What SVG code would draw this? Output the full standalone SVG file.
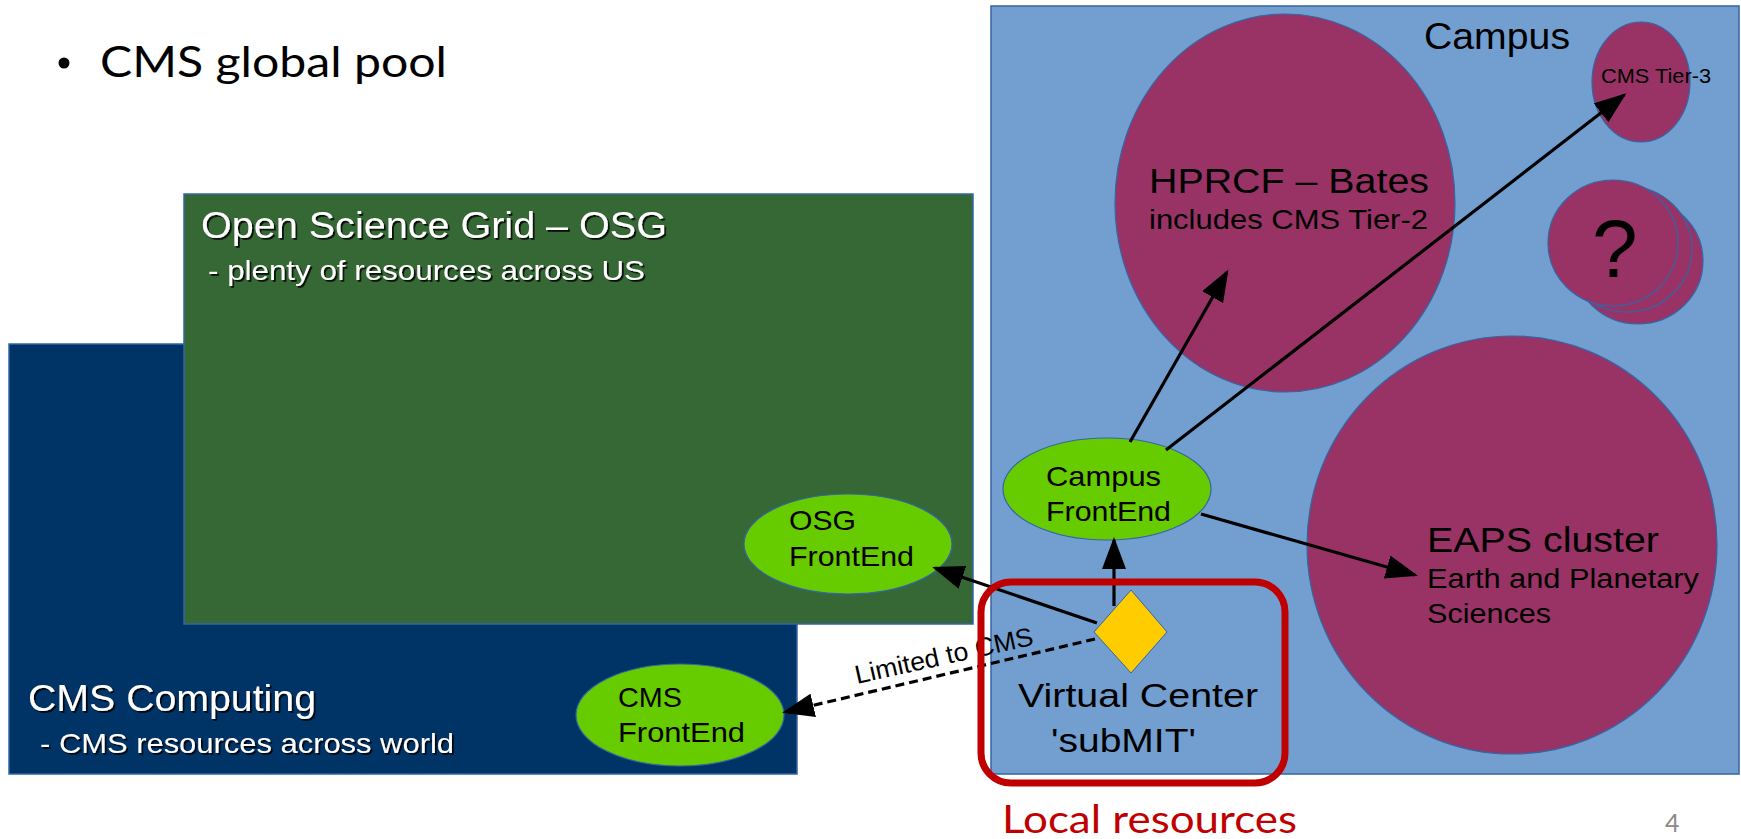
<svg xmlns="http://www.w3.org/2000/svg" width="1741" height="839" viewBox="0 0 1741 839">
<defs>
<style>
.box{stroke:#3465a4;stroke-width:1.5}
.res{fill:#993366;stroke:#3465a4;stroke-width:1.2}
.fe{fill:#66cc00;stroke:#3465a4;stroke-width:1.2}
.t{font-family:"Liberation Sans",Arial,sans-serif;fill:#000}
.w{font-family:"Liberation Sans",Arial,sans-serif;fill:#fff;filter:url(#sh)}
.cal{font-family:Lato,"Open Sans",sans-serif}
.ln{stroke:#000;stroke-width:3.2;fill:none}
</style>
<filter id="sh" x="-5%" y="-20%" width="110%" height="140%">
<feDropShadow dx="1.8" dy="1.8" stdDeviation="0.4" flood-color="#000" flood-opacity="0.85"/>
</filter>
<marker id="ah" markerUnits="userSpaceOnUse" markerWidth="32" markerHeight="24" refX="29" refY="12" orient="auto">
<path d="M0,0 L32,12 L0,24 z" fill="#000"/>
</marker>
</defs>

<g id="title">
<circle cx="64" cy="63" r="5.5" fill="#000"/>
<text class="cal" x="100" y="77" font-size="42" textLength="347" lengthAdjust="spacingAndGlyphs" fill="#000">CMS global pool</text>
</g>

<g id="cms-computing">
<rect class="box" x="9" y="344" width="788" height="430" fill="#003366"/>
<text class="w" x="28" y="711" font-size="36" textLength="288" lengthAdjust="spacingAndGlyphs">CMS Computing</text>
<text class="w" x="40" y="753" font-size="28" textLength="414" lengthAdjust="spacingAndGlyphs">- CMS resources across world</text>
</g>

<g id="osg">
<rect class="box" x="184" y="194" width="789" height="430" fill="#356834"/>
<text class="w" x="201" y="238" font-size="36" textLength="466" lengthAdjust="spacingAndGlyphs">Open Science Grid – OSG</text>
<text class="w" x="208" y="280" font-size="28" textLength="437" lengthAdjust="spacingAndGlyphs">- plenty of resources across US</text>
</g>

<g id="campus">
<rect class="box" x="991" y="6" width="748" height="768" fill="#729fcf"/>
<text class="t" x="1424" y="49" font-size="36" textLength="146" lengthAdjust="spacingAndGlyphs">Campus</text>
</g>

<g id="hprcf">
<ellipse class="res" cx="1285" cy="203" rx="170" ry="189"/>
<text class="t" x="1149" y="193" font-size="35" textLength="280" lengthAdjust="spacingAndGlyphs">HPRCF – Bates</text>
<text class="t" x="1149" y="229" font-size="28" textLength="279" lengthAdjust="spacingAndGlyphs">includes CMS Tier-2</text>
</g>

<g id="cms-tier3">
<ellipse class="res" cx="1641" cy="82" rx="49" ry="60"/>
<text class="t" x="1601" y="83" font-size="20" textLength="110" lengthAdjust="spacingAndGlyphs">CMS Tier-3</text>
</g>

<g id="unknown">
<ellipse class="res" cx="1638" cy="261" rx="65" ry="63"/>
<ellipse class="res" cx="1627" cy="249" rx="65" ry="63"/>
<ellipse class="res" cx="1613" cy="243" rx="65" ry="63"/>
<text class="t" x="1592" y="277" font-size="82">?</text>
</g>

<g id="eaps">
<ellipse class="res" cx="1512" cy="545" rx="205" ry="209"/>
<text class="t" x="1427" y="552" font-size="35" textLength="232" lengthAdjust="spacingAndGlyphs">EAPS cluster</text>
<text class="t" x="1427" y="588" font-size="27" textLength="272" lengthAdjust="spacingAndGlyphs">Earth and Planetary</text>
<text class="t" x="1427" y="623" font-size="27" textLength="124" lengthAdjust="spacingAndGlyphs">Sciences</text>
</g>

<g id="osg-frontend">
<ellipse class="fe" cx="848" cy="544" rx="104" ry="50"/>
<text class="t" x="789" y="530" font-size="28" textLength="67" lengthAdjust="spacingAndGlyphs">OSG</text>
<text class="t" x="789" y="566" font-size="28" textLength="125" lengthAdjust="spacingAndGlyphs">FrontEnd</text>
</g>

<g id="cms-frontend">
<ellipse class="fe" cx="680" cy="715" rx="104" ry="51"/>
<text class="t" x="618" y="707" font-size="28" textLength="64" lengthAdjust="spacingAndGlyphs">CMS</text>
<text class="t" x="618" y="742" font-size="28" textLength="127" lengthAdjust="spacingAndGlyphs">FrontEnd</text>
</g>

<g id="campus-frontend">
<ellipse class="fe" cx="1107" cy="489" rx="104" ry="51"/>
<text class="t" x="1046" y="486" font-size="28" textLength="115" lengthAdjust="spacingAndGlyphs">Campus</text>
<text class="t" x="1046" y="521" font-size="28" textLength="125" lengthAdjust="spacingAndGlyphs">FrontEnd</text>
</g>

<g id="connectors">
<line class="ln" x1="1130" y1="442" x2="1227" y2="272" marker-end="url(#ah)"/>
<line class="ln" x1="1166" y1="450" x2="1624" y2="95" marker-end="url(#ah)"/>
<line class="ln" x1="1201" y1="514" x2="1415" y2="575" marker-end="url(#ah)"/>
<line class="ln" x1="1114" y1="606" x2="1114" y2="540" marker-end="url(#ah)"/>
<line class="ln" x1="1097" y1="623" x2="935" y2="568" marker-end="url(#ah)"/>
<line class="ln" x1="1095" y1="639" x2="785" y2="712" stroke-dasharray="9,5" marker-end="url(#ah)"/>
<text class="t" x="0" y="0" font-size="26" textLength="182" lengthAdjust="spacingAndGlyphs" transform="translate(857,684) rotate(-12.5)">Limited to CMS</text>
</g>

<g id="virtual-center">
<polygon points="1131,590 1167,632 1131,673 1094,632" fill="#ffcc00" stroke="#3465a4" stroke-width="1"/>
<text class="t" x="1018" y="707" font-size="34" textLength="240" lengthAdjust="spacingAndGlyphs">Virtual Center</text>
<text class="t" x="1051" y="752" font-size="34" textLength="145" lengthAdjust="spacingAndGlyphs">'subMIT'</text>
</g>

<g id="local-resources">
<rect x="981" y="582" width="304" height="201" rx="30" ry="30" fill="none" stroke="#c00000" stroke-width="7"/>
<text class="cal" x="1002" y="833" font-size="38" textLength="295" lengthAdjust="spacingAndGlyphs" fill="#c00000">Local resources</text>
</g>

<g id="page-number">
<text x="1665" y="832" font-size="25" font-family="Lato,'Open Sans',sans-serif" fill="#888">4</text>
</g>
</svg>
